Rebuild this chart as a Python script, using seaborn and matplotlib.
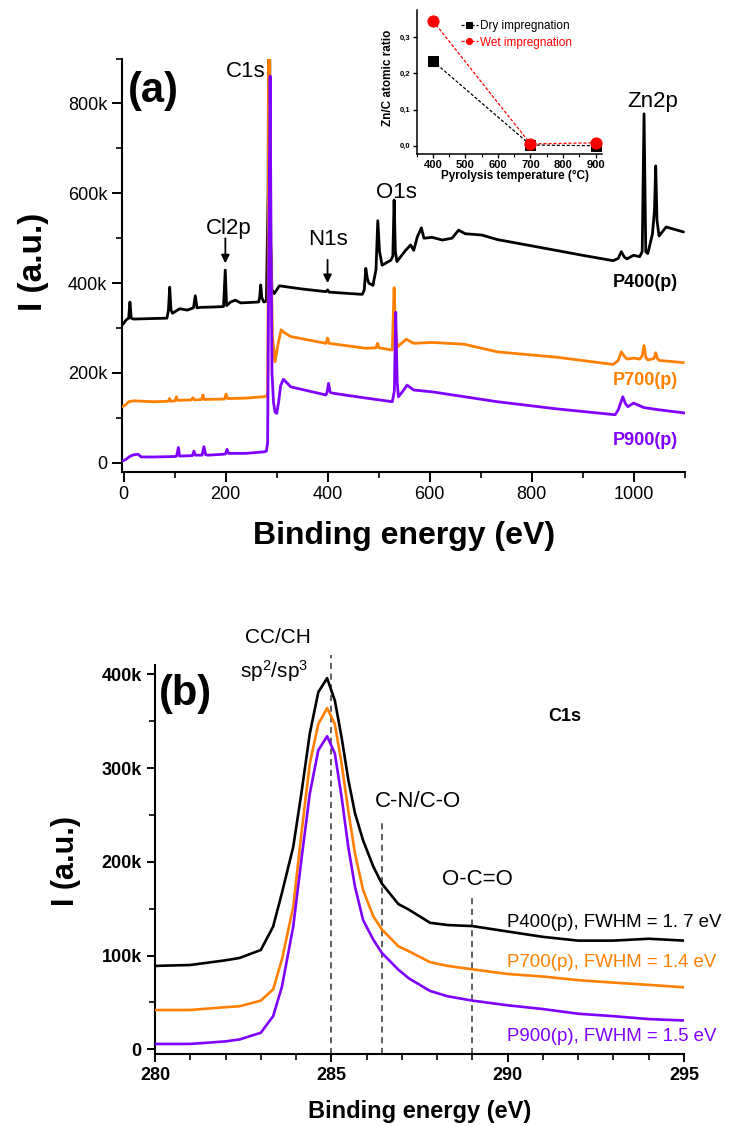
import numpy as np
import pandas as pd
import matplotlib
matplotlib.use('Agg')
import matplotlib.pyplot as plt
from matplotlib.ticker import MultipleLocator, FuncFormatter
import seaborn as sns

sns.set_style('ticks')
plt.rcParams['font.family'] = ['Liberation Sans', 'DejaVu Sans']
plt.rcParams['mathtext.fontset'] = 'custom'
plt.rcParams['mathtext.rm'] = 'Liberation Sans'
plt.rcParams['mathtext.it'] = 'Liberation Sans:italic'
plt.rcParams.update({'text.color': 'black', 'axes.labelcolor': 'black',
                     'xtick.color': 'black', 'ytick.color': 'black',
                     'axes.edgecolor': 'black'})

# ---- (a) survey spectra, intensities in k counts
p400_e = [-4, 0, 5, 10, 12.5, 15, 20, 50, 85, 88, 90.5, 93, 96, 110, 125, 137, 140.7, 144,
          150, 180, 196, 199.4, 202, 210, 219, 230, 265, 267, 269, 271, 275, 280, 283.5,
          284.5, 286, 288, 291, 295.6, 305.6, 350, 397, 400, 403, 468, 472, 475, 478, 481,
          489, 495, 498.5, 502, 507, 524, 528, 530.5, 533, 536, 553, 563, 569, 576, 584,
          589, 605, 625, 644, 657, 670, 703, 733, 805, 900, 960, 970, 976, 982, 987, 1000,
          1012, 1017, 1020.6, 1024, 1028, 1037, 1041, 1043.5, 1046, 1050, 1064, 1098]
p400_i = [306, 310, 318, 322, 358, 322, 320, 321, 322, 340, 391, 340, 333, 343, 340, 345, 372, 345,
          346, 347, 348, 429, 350, 358, 362, 356, 358, 370, 396, 368, 358, 360, 600,
          1100, 1100, 500, 385, 377, 394, 387, 381, 385, 380, 375, 385, 433, 410, 400,
          395, 430, 539, 470, 440, 451, 460, 585, 470, 448, 473, 485, 473, 503, 523,
          500, 502, 496, 500, 518, 510, 507, 497, 482, 462, 450, 455, 470, 458, 454, 462,
          459, 470, 777, 470, 466, 509, 560, 661, 540, 505, 525, 514]

p700_e = [-3, 3, 10, 20, 60, 88, 90, 93, 101, 103.6, 106, 133, 136, 139, 153, 155.6, 158, 198,
          201, 204, 240, 273, 280, 282.5, 283.5, 284.3, 286, 288.5, 292, 297, 303, 309, 315,
          328, 397, 400, 403, 475, 495, 498, 501, 527, 530.5, 533, 537, 547, 554.5, 569, 605,
          668, 733, 850, 960, 970, 976, 982, 987, 1000, 1012, 1017, 1020.6, 1024, 1028, 1040,
          1043.5, 1047, 1050, 1098]
p700_i = [125, 128, 136, 138, 136, 137, 143, 137, 138, 147, 139, 140, 145, 140, 141, 151, 141, 142,
          153, 143, 144, 147, 148, 155, 400, 1000, 1000, 500, 280, 225, 265, 296, 290,
          281, 266, 278, 266, 255, 256, 266, 256, 251, 390, 300, 258, 268, 275, 266, 268,
          264, 247, 235, 219, 228, 247, 237, 231, 233, 231, 238, 261, 235, 229, 232,
          245, 232, 228, 223]

p900_e = [-4, 0, 5, 12, 20, 28.5, 35, 60, 100, 104, 107.5, 110, 135, 138, 141, 154, 157.6, 161,
          165, 195, 200, 203, 206, 240, 276, 280, 282.5, 285, 287.4, 289.2, 291, 294, 297,
          300.3, 304, 308, 313.4, 328, 397, 399, 402, 405, 410, 470, 527, 531, 533.7, 536.5,
          539, 548, 556, 569, 605, 733, 850, 964, 970, 979, 984, 989, 1000, 1010, 1020, 1050,
          1100]
p900_i = [4.5, 5, 8, 14, 18, 19, 13, 13, 14, 15, 34, 15, 16, 26, 17, 17, 36, 18,
          17, 19, 20, 30, 21, 21, 24.5, 26, 45, 500, 861, 500, 200, 135, 113,
          110, 135, 172, 186, 169, 151, 158, 177, 157, 155, 145, 136, 160, 335, 180,
          147, 160, 173, 162, 158, 136, 120, 107, 118, 147, 132, 125, 133, 128, 123, 118,
          111]

# ---- inset: Zn/C atomic ratio
temps = [400, 700, 900]
dry_ratio = [0.234, 0.002, 0.0]
wet_ratio = [0.345, 0.005, 0.008]

# ---- (b) C1s high resolution, intensities in k counts
c1s_e = [280.0, 281.0, 282.0, 282.4, 283.0, 283.35, 283.6, 283.92, 284.15, 284.39, 284.63,
         284.88, 285.1, 285.29, 285.48, 285.67, 285.9, 286.19, 286.43, 286.9, 287.2, 287.8,
         288.3, 289.0, 290.0, 291.0, 292.0, 293.0, 294.0, 295.0]
c1s_p400 = [89, 90, 95, 97.5, 106, 131, 167, 216, 273, 337, 381,
            396, 372, 333, 288, 252, 223, 195, 177, 155, 149, 135,
            132.6, 131.5, 125.7, 120, 116, 116, 118, 116]
c1s_p700 = [42, 42, 45, 46, 52, 64, 96, 152, 230, 305, 347,
            364, 347, 305, 255, 209, 170, 142, 128, 110, 104.6, 93,
            89, 85.4, 80.4, 77.7, 73.8, 71.2, 68.8, 66.2]
c1s_p900 = [5.8, 5.8, 8.5, 10.6, 17.7, 35.4, 67, 131, 202, 273, 319,
            334, 315.6, 269.5, 216, 173.7, 138, 117, 103, 85, 75.7, 62.3,
            56.6, 52, 47, 43, 38, 35.4, 32.3, 30.8]

sample_names = ['P400(p)', 'P700(p)', 'P900(p)']
fwhm = ['1. 7', '1.4', '1.5']
colors = ['black', '#FF8000', '#8000FF']

survey = [(p400_e, p400_i), (p700_e, p700_i), (p900_e, p900_i)]
c1s = [c1s_p400, c1s_p700, c1s_p900]


def kfmt(v, pos):
    return '0' if abs(v) < 1 else '{:d}k'.format(int(round(v / 1000)))


fig = plt.figure(figsize=(7.29, 11.26), dpi=100)

# ================= (a)
ax = fig.add_axes([0.1674, 0.581, 0.7716, 0.367])
for (e, i), c, z in zip(survey, colors, [2, 3, 4]):
    sns.lineplot(x=e, y=np.array(i) * 1000, color=c, lw=2.0, ax=ax, zorder=z,
                 estimator=None, sort=False)
ax.set_xlim(-3, 1100)
ax.set_ylim(-20e3, 900e3)
ax.xaxis.set_major_locator(MultipleLocator(200))
ax.xaxis.set_minor_locator(MultipleLocator(100))
ax.yaxis.set_major_locator(MultipleLocator(200e3))
ax.yaxis.set_minor_locator(MultipleLocator(100e3))
ax.yaxis.set_major_formatter(FuncFormatter(kfmt))
ax.tick_params(which='major', length=7, width=1.4, labelsize=13, direction='out')
ax.tick_params(which='minor', length=4, width=1.2, direction='out')
sns.despine(ax=ax)
for s in ['left', 'bottom']:
    ax.spines[s].set_linewidth(1.5)
ax.set_xlabel('Binding energy (eV)', fontsize=23, fontweight='bold')
ax.set_ylabel('I (a.u.)', fontsize=24, fontweight='bold')
ax.xaxis.set_label_coords(0.501, -0.118)
ax.yaxis.set_label_coords(-0.13, 0.507)

ax.text(58, 828e3, '(a)', fontsize=30, fontweight='bold', ha='center', va='center')
ax.text(240, 871e3, 'C1s', fontsize=16, ha='center', va='center')
ax.text(207, 521e3, 'Cl2p', fontsize=16, ha='center', va='center')
ax.annotate('', xy=(199.6, 438e3), xytext=(199.6, 506e3),
            arrowprops=dict(arrowstyle='-|>', color='black', lw=1.3, mutation_scale=12))
ax.text(401, 497e3, 'N1s', fontsize=16, ha='center', va='center')
ax.annotate('', xy=(400, 394e3), xytext=(400, 458e3),
            arrowprops=dict(arrowstyle='-|>', color='black', lw=1.3, mutation_scale=12))
ax.text(536, 601e3, 'O1s', fontsize=16, ha='center', va='center')
ax.text(1037, 804e3, 'Zn2p', fontsize=16, ha='center', va='center')
for name, c, yv in zip(sample_names, colors, [402e3, 183e3, 50e3]):
    ax.text(1087, yv, name, color=c, fontsize=13, fontweight='bold', ha='right', va='center')

# ---- inset
axin = fig.add_axes([0.5716, 0.8632, 0.2542, 0.1279])
axin.set_facecolor('none')
sns.lineplot(x=temps, y=dry_ratio, ax=axin, color='black', marker='s', ms=7, mec='black',
             lw=0.9, linestyle=(0, (2.5, 1.5)), estimator=None, label='Dry impregnation')
sns.lineplot(x=temps, y=wet_ratio, ax=axin, color='red', marker='o', ms=8, mec='red',
             lw=0.9, linestyle=(0, (2.5, 1.5)), estimator=None, label='Wet impregnation')
axin.set_xlim(350, 920)
axin.set_ylim(-0.023, 0.375)
axin.xaxis.set_major_locator(MultipleLocator(100))
axin.xaxis.set_minor_locator(MultipleLocator(50))
axin.yaxis.set_major_locator(MultipleLocator(0.1))
axin.yaxis.set_major_formatter(FuncFormatter(lambda v, p: '{:.1f}'.format(v).replace('.', ',')))
axin.tick_params(axis='x', which='major', length=3, width=1, labelsize=8, pad=1.5)
axin.tick_params(axis='y', which='major', length=3, width=1, labelsize=5.5, pad=1.5)
axin.tick_params(which='minor', length=2, width=0.8)
for lab in axin.get_xticklabels() + axin.get_yticklabels():
    lab.set_fontweight('bold')
sns.despine(ax=axin)
for s in ['left', 'bottom']:
    axin.spines[s].set_linewidth(1.1)
axin.set_xlabel('Pyrolysis temperature (°C)', fontsize=8.5, fontweight='bold', labelpad=0)
axin.set_ylabel('Zn/C atomic ratio', fontsize=8.5, fontweight='bold')
axin.xaxis.set_label_coords(0.53, -0.11)
axin.yaxis.set_label_coords(-0.12, 0.528)
leg = axin.legend(loc='center left', bbox_to_anchor=(0.24, 0.83), frameon=False, fontsize=8.5,
                  handlelength=1.4, handletextpad=0.2, borderpad=0, borderaxespad=0,
                  labelspacing=0.35, markerscale=0.55, labelcolor=['black', 'red'])

# ================= (b)
bx = fig.add_axes([0.2126, 0.0639, 0.7257, 0.3455])
for vals, c, z in zip(c1s, colors, [2, 3, 4]):
    sns.lineplot(x=c1s_e, y=np.array(vals) * 1000, color=c, lw=1.9, ax=bx, zorder=z,
                 estimator=None, sort=False)
bx.set_xlim(280, 295)
bx.set_ylim(-5e3, 410e3)
bx.xaxis.set_major_locator(MultipleLocator(5))
bx.xaxis.set_minor_locator(MultipleLocator(1))
bx.yaxis.set_major_locator(MultipleLocator(100e3))
bx.yaxis.set_minor_locator(MultipleLocator(50e3))
bx.yaxis.set_major_formatter(FuncFormatter(kfmt))
bx.tick_params(which='major', length=6, width=1.4, labelsize=13, direction='out')
bx.tick_params(which='minor', length=4, width=1.2, direction='out')
for lab in bx.get_xticklabels() + bx.get_yticklabels():
    lab.set_fontweight('bold')
sns.despine(ax=bx)
for s in ['left', 'bottom']:
    bx.spines[s].set_linewidth(1.5)
bx.set_xlabel('Binding energy (eV)', fontsize=17, fontweight='bold')
bx.set_ylabel('I (a.u.)', fontsize=22, fontweight='bold')
bx.xaxis.set_label_coords(0.5, -0.118)
bx.yaxis.set_label_coords(-0.139, 0.495)

for xv, ytop in [(285.0, 421e3), (286.43, 243e3), (289.0, 166e3)]:
    bx.plot([xv, xv], [-5e3, ytop], color='#333333', lw=1.1, ls=(0, (4, 3)),
            clip_on=False, zorder=1)

bx.text(280.85, 379e3, '(b)', fontsize=30, fontweight='bold', ha='center', va='center')
bx.text(283.49, 439e3, 'CC/CH', fontsize=15, ha='center', va='center')
bx.text(283.39, 404e3, 'sp$^{2}$/sp$^{3}$', fontsize=15, ha='center', va='center')
bx.text(291.62, 355e3, 'C1s', fontsize=13, fontweight='bold', ha='center', va='center')
bx.text(287.45, 264e3, 'C-N/C-O', fontsize=16, ha='center', va='center')
bx.text(289.13, 181e3, 'O-C=O', fontsize=16, ha='center', va='center')
for name, f, c, yv in zip(sample_names, fwhm, colors, [135e3, 93e3, 14e3]):
    bx.text(289.98, yv, '{}, FWHM = {} eV'.format(name, f), color=c, fontsize=13.4,
            ha='left', va='center')

fig.savefig('out.png', dpi=100)
